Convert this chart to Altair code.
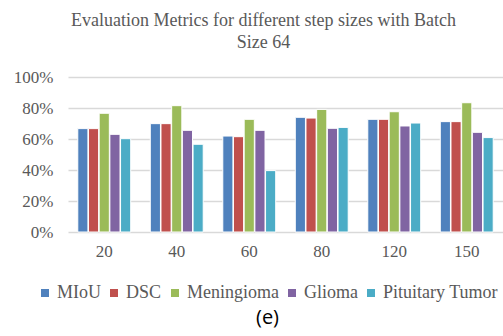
import altair as alt
import pandas as pd

steps = ["20", "40", "60", "80", "120", "150"]
metrics = ["MIoU", "DSC", "Meningioma", "Glioma", "Pituitary Tumor"]
miou = [0.667, 0.699, 0.619, 0.740, 0.727, 0.712]
dsc = [0.667, 0.699, 0.615, 0.735, 0.727, 0.712]
meningioma = [0.766, 0.815, 0.727, 0.791, 0.776, 0.834]
glioma = [0.630, 0.656, 0.656, 0.669, 0.684, 0.643]
pituitary = [0.602, 0.566, 0.396, 0.675, 0.703, 0.609]
colors = ["#4F81BD", "#C0504D", "#9BBB59", "#8064A2", "#4BACC6"]

series = [miou, dsc, meningioma, glioma, pituitary]
rows = []
for m, vals in zip(metrics, series):
    for s, v in zip(steps, vals):
        rows.append({"step": s, "metric": m, "value": v})
df = pd.DataFrame(rows)

serif = "Liberation Serif"
grey = "#595959"

chart = alt.Chart(df).mark_bar(stroke="white", strokeWidth=1).encode(
    x=alt.X("step:N", sort=steps,
            scale=alt.Scale(paddingInner=0.27, paddingOuter=0.135),
            axis=alt.Axis(title="(e)", labelAngle=0, labelPadding=11, ticks=False, domain=False,
                          titleX=199, titleY=95, titleBaseline="bottom")),
    xOffset=alt.XOffset("metric:N", sort=metrics, scale=alt.Scale(paddingInner=0.05)),
    y=alt.Y("value:Q", scale=alt.Scale(domain=[0, 1]),
            axis=alt.Axis(title=None, format=".0%", values=[0, 0.2, 0.4, 0.6, 0.8, 1.0],
                          labelPadding=15, ticks=False, domain=False,
                          gridColor="#D9D9D9", gridWidth=1.5)),
    color=alt.Color("metric:N", sort=metrics,
                    scale=alt.Scale(domain=metrics, range=colors),
                    legend=alt.Legend(title=None, orient="none", direction="horizontal",
                                      legendX=-32, legendY=207,
                                      symbolType="square", symbolSize=64,
                                      symbolStrokeWidth=0,
                                      labelOffset=3, columnPadding=4)),
).properties(
    width=435, height=155,
    title=alt.Title(["Evaluation Metrics for different step sizes with Batch", "Size 64"],
                    font=serif, fontSize=18, fontWeight="normal", color=grey,
                    anchor="middle", dx=-22, offset=16, lineHeight=22),
    autosize=alt.AutoSizeParams(type="none"),
    padding={"left": 68, "top": 77, "right": 0, "bottom": 104},
).configure_view(stroke=None).configure_axis(
    labelFont=serif, labelFontSize=17, labelColor=grey,
    titleFont="Open Sans", titleFontSize=20, titleFontWeight="normal", titleColor="black",
).configure_legend(
    labelFont=serif, labelFontSize=18, labelColor=grey,
)

chart.save("out.html", embed_options={"renderer": "svg", "actions": False})
